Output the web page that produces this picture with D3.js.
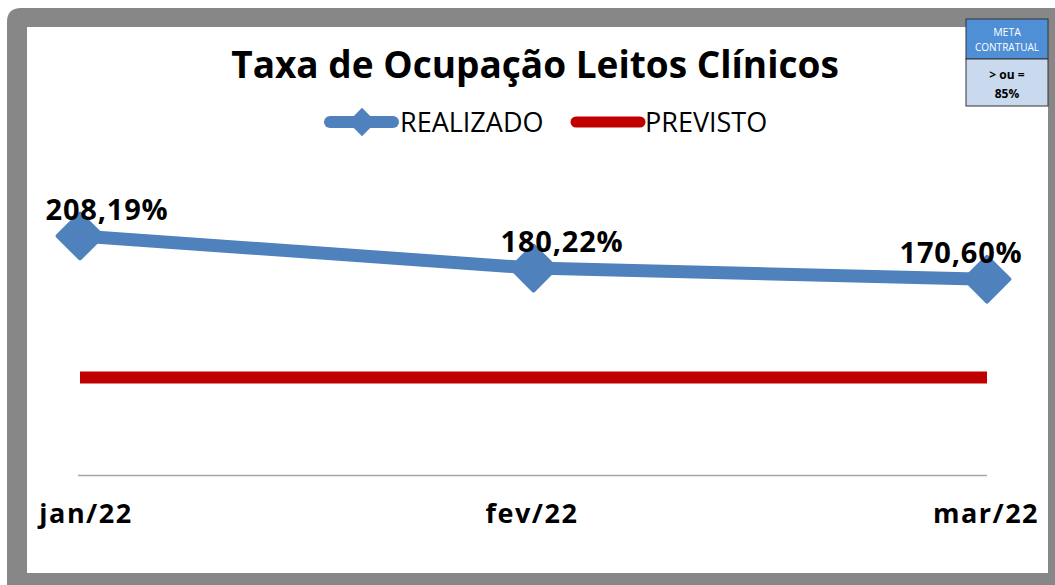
<!DOCTYPE html>
<html>
<head>
<meta charset="utf-8">
<script src="https://cdn.jsdelivr.net/npm/d3@7"></script>
<style>
  body { margin: 0; background: #fff; }
  svg { display: block; font-family: "Open Sans", "DejaVu Sans", sans-serif; }
</style>
</head>
<body>
<div id="chart"></div>
<script>
// chart data
const months = ["jan/22", "fev/22", "mar/22"];
const realizado = [208.19, 180.22, 170.60];
const previsto = [85, 85, 85];
const labels = ["208,19%", "180,22%", "170,60%"];

const W = 1055, H = 585;
const svg = d3.select("#chart").append("svg")
  .attr("width", W).attr("height", H);

// gray frame with rounded top-left corner
svg.append("path")
  .attr("d", "M7,585 L7,22 Q7,8 21,8 L1055,8 L1055,585 Z")
  .attr("fill", "#878787");
svg.append("rect")
  .attr("x", 27).attr("y", 27).attr("width", 1021).attr("height", 546)
  .attr("fill", "#fff");

// scales
const x = d3.scalePoint().domain(months).range([80, 987]);
const y = d3.scaleLinear().domain([0, 250]).range([475, 188]);

// x axis line only
const xAxis = d3.axisBottom(x).tickSize(0).tickFormat("");
const gx = svg.append("g").attr("transform", "translate(0,475)").call(xAxis);
gx.select(".domain").attr("stroke", "#a6a6a6").attr("stroke-width", 1.5)
  .attr("d", "M78,0.5H987");

// x labels
svg.selectAll(".xlab").data(months).enter().append("text")
  .attr("class", "xlab")
  .attr("x", (d, i) => [86, 532, 986][i])
  .attr("y", 523)
  .attr("text-anchor", "middle")
  .style("font-size", "27px").style("font-weight", "bold")
  .style("letter-spacing", "1.5px")
  .text(d => d);

// previsto line
svg.append("path")
  .datum(previsto)
  .attr("fill", "none")
  .attr("stroke", "#c00000")
  .attr("stroke-width", 12)
  .attr("d", d3.line().x((d, i) => x(months[i])).y(d => y(d)));

// realizado line
svg.append("path")
  .datum(realizado)
  .attr("fill", "none")
  .attr("stroke", "#4f81bd")
  .attr("stroke-width", 13)
  .attr("stroke-linejoin", "round")
  .attr("d", d3.line().x((d, i) => x(months[i])).y(d => y(d)));

const diamond = d3.symbol().type(d3.symbolSquare).size(1000);
svg.selectAll(".pt").data(realizado).enter().append("path")
  .attr("class", "pt")
  .attr("d", diamond)
  .attr("fill", "#4f81bd")
  .attr("stroke", "#4f81bd")
  .attr("stroke-width", 4)
  .attr("stroke-linejoin", "round")
  .attr("transform", (d, i) => `translate(${x(months[i])},${y(d)}) rotate(45)`);

// data labels
svg.selectAll(".dl").data(realizado).enter().append("text")
  .attr("class", "dl")
  .attr("x", (d, i) => [107, 562, 961][i])
  .attr("y", d => y(d) - 16)
  .attr("text-anchor", "middle")
  .style("font-size", "29px").style("font-weight", "bold")
  .style("letter-spacing", "0.8px")
  .text((d, i) => labels[i]);

// title
svg.append("text")
  .attr("x", 535).attr("y", 78)
  .attr("text-anchor", "middle")
  .style("font-size", "37px").style("font-weight", "bold")
  .text("Taxa de Ocupação Leitos Clínicos");

// legend
const lg = svg.append("g");
lg.append("line").attr("x1", 330).attr("x2", 393).attr("y1", 122).attr("y2", 122)
  .attr("stroke", "#4f81bd").attr("stroke-width", 12).attr("stroke-linecap", "round");
lg.append("path").attr("d", d3.symbol().type(d3.symbolSquare).size(400))
  .attr("fill", "#4f81bd")
  .attr("transform", "translate(362,122) rotate(45)");
lg.append("text").attr("x", 400).attr("y", 132)
  .style("font-size", "27px").text("REALIZADO");
lg.append("line").attr("x1", 576).attr("x2", 640).attr("y1", 122).attr("y2", 122)
  .attr("stroke", "#c00000").attr("stroke-width", 11).attr("stroke-linecap", "round");
lg.append("text").attr("x", 645).attr("y", 132)
  .style("font-size", "27px").text("PREVISTO");

// meta box
const mb = svg.append("g");
mb.append("rect").attr("x", 966).attr("y", 19).attr("width", 82).attr("height", 40)
  .attr("fill", "#4f8fd6").attr("stroke", "#333").attr("stroke-width", 1);
mb.append("rect").attr("x", 966).attr("y", 59).attr("width", 82).attr("height", 47)
  .attr("fill", "#c9d9ee").attr("stroke", "#333").attr("stroke-width", 1);
mb.append("text").attr("x", 1007).attr("y", 36).attr("text-anchor", "middle")
  .attr("fill", "#fff").style("font-size", "10.5px").text("META");
mb.append("text").attr("x", 1007).attr("y", 51).attr("text-anchor", "middle")
  .attr("fill", "#fff").style("font-size", "10px").text("CONTRATUAL");
mb.append("text").attr("x", 1007).attr("y", 79).attr("text-anchor", "middle")
  .style("font-size", "12px").style("font-weight", "bold").text("> ou =");
mb.append("text").attr("x", 1007).attr("y", 98).attr("text-anchor", "middle")
  .style("font-size", "12px").style("font-weight", "bold").text("85%");
</script>
</body>
</html>
